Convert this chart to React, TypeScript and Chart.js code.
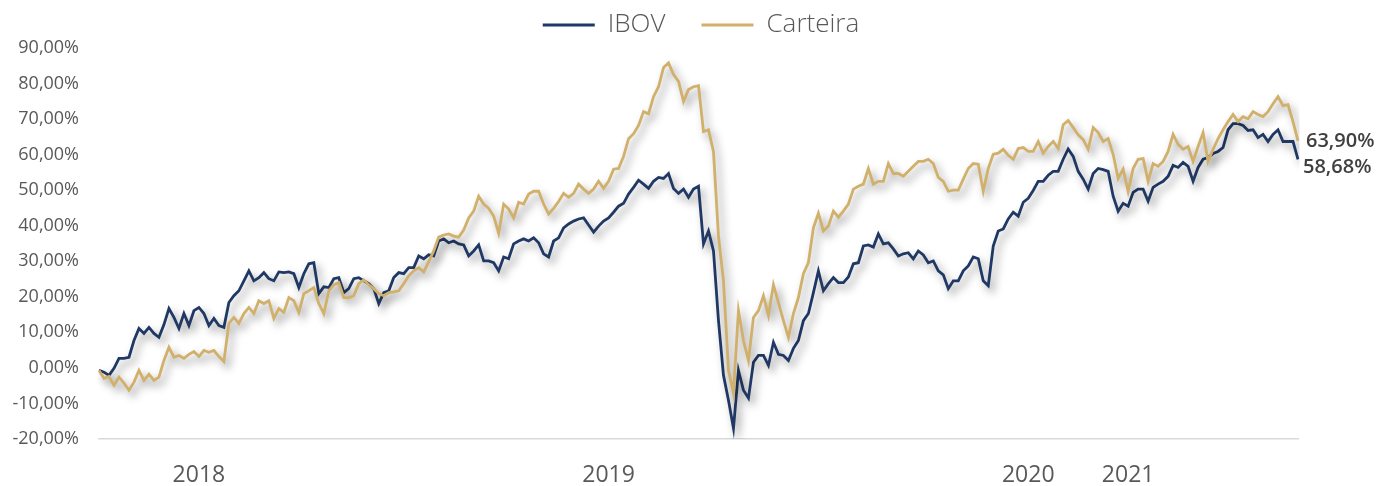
import React, { useEffect, useRef } from 'react';
import { Chart, registerables } from 'chart.js';

Chart.register(...registerables);

const seriesNames = ['IBOV', 'Carteira'];
const yearLabels = ['2018', '2019', '2020', '2021'];
const yearPositions = [20, 102, 186, 206];

const ibov = [
  -0.7, -1.2, -2.1, -0.1, 2.7, 2.7, 3.0, 7.7, 11.1, 9.7,
  11.4, 9.7, 8.6, 12.2, 16.7, 14.2, 11.1, 15.3, 11.9, 16.1,
  17.0, 15.3, 11.9, 13.9, 11.9, 11.4, 18.4, 20.3, 21.7, 24.5,
  27.3, 24.5, 25.4, 26.8, 25.1, 24.5, 27.0, 26.8, 27.0, 26.5,
  22.6, 26.5, 29.3, 29.6, 20.9, 22.8, 22.6, 25.1, 25.4, 21.2,
  22.3, 25.1, 25.4, 24.5, 23.7, 22.3, 18.1, 21.2, 21.7, 25.4,
  26.8, 26.5, 28.2, 28.2, 31.5, 30.7, 31.8, 31.5, 35.7, 36.3,
  35.2, 35.7, 34.9, 34.6, 31.5, 32.9, 34.6, 30.1, 30.1, 29.6,
  27.3, 31.2, 30.7, 34.9, 35.7, 36.3, 35.7, 36.6, 35.2, 32.1,
  31.2, 35.7, 36.6, 39.4, 40.5, 41.3, 41.9, 42.2, 40.2, 38.2,
  39.9, 41.3, 42.2, 43.8, 45.5, 46.3, 48.9, 50.8, 52.8, 51.7,
  50.5, 52.5, 53.6, 53.3, 54.7, 50.5, 49.1, 50.3, 48.0, 50.3,
  51.1, 34.9, 38.5, 32.9, 13.3, -2.1, -9.1, -17.0, -0.7, -6.3,
  -8.5, 1.6, 3.5, 3.5, 0.7, 7.2, 3.8, 3.5, 2.1, 5.5,
  7.7, 13.3, 15.3, 21.2, 27.3, 21.7, 23.7, 25.4, 24.0, 24.0,
  25.6, 29.3, 29.6, 34.3, 34.6, 34.0, 37.7, 34.9, 35.2, 33.5,
  31.5, 32.1, 32.4, 30.7, 32.9, 31.8, 29.6, 30.1, 27.3, 26.2,
  22.3, 24.5, 24.5, 27.3, 28.7, 31.2, 30.7, 24.5, 23.1, 34.3,
  38.5, 39.1, 41.9, 43.8, 42.7, 46.6, 47.7, 49.9, 52.5, 52.5,
  54.2, 55.3, 55.3, 58.7, 61.6, 59.5, 55.3, 53.1, 50.3, 54.7,
  56.1, 55.8, 55.3, 48.3, 44.1, 46.3, 45.5, 49.4, 50.3, 50.3,
  46.9, 50.8, 51.7, 52.5, 53.9, 57.0, 56.4, 57.8, 56.7, 52.5,
  56.4, 58.7, 59.2, 60.3, 60.9, 62.0, 67.0, 68.7, 68.7, 68.2,
  66.8, 67.0, 64.8, 65.7, 63.7, 65.7, 67.0, 63.7, 63.7, 63.7,
  58.68,
];

const carteira = [
  -0.7, -2.9, -2.4, -4.9, -2.6, -4.3, -6.3, -4.0, -0.7, -3.5,
  -1.8, -3.5, -2.6, 2.1, 5.8, 3.0, 3.5, 2.7, 3.8, 4.6,
  3.2, 4.9, 4.4, 4.9, 3.2, 1.8, 12.5, 14.2, 12.5, 15.3,
  17.0, 15.3, 18.9, 18.1, 18.9, 13.9, 16.7, 15.6, 19.8, 18.9,
  15.6, 20.9, 21.7, 22.6, 18.1, 15.3, 21.7, 23.4, 24.0, 19.8,
  19.8, 20.3, 23.7, 24.8, 23.4, 22.3, 20.9, 20.3, 21.2, 21.4,
  21.7, 23.7, 25.9, 27.3, 28.2, 27.0, 29.9, 32.9, 36.8, 37.4,
  37.7, 37.1, 36.8, 38.8, 42.2, 44.1, 48.3, 46.1, 44.9, 42.7,
  37.9, 46.1, 44.7, 42.2, 46.6, 46.1, 48.9, 49.7, 49.7, 46.1,
  43.3, 44.9, 46.8, 49.1, 48.0, 49.1, 51.7, 50.3, 49.1, 50.3,
  52.5, 50.5, 52.5, 55.9, 56.1, 59.5, 64.5, 65.9, 68.2, 72.1,
  71.5, 76.3, 79.1, 84.5, 85.8, 82.5, 80.6, 75.0, 78.3, 79.1,
  79.4, 66.5, 67.0, 60.8, 37.1, 24.5, -0.7, -7.1, 16.1, 7.7,
  2.1, 14.2, 16.1, 20.3, 14.7, 23.4, 18.4, 13.3, 8.6, 15.3,
  19.8, 26.5, 29.6, 39.4, 43.5, 38.5, 39.9, 44.1, 42.4, 44.1,
  46.1, 50.3, 51.1, 51.7, 56.1, 51.7, 52.5, 52.5, 57.5, 54.7,
  54.7, 53.9, 55.3, 56.7, 58.1, 58.1, 58.7, 57.5, 53.6, 52.5,
  49.7, 50.0, 50.0, 53.1, 56.1, 57.5, 57.3, 49.7, 56.1, 60.1,
  60.4, 61.5, 59.8, 58.7, 61.7, 62.0, 60.9, 60.9, 63.7, 60.4,
  62.3, 63.7, 61.7, 68.4, 69.6, 67.6, 65.6, 64.2, 61.5, 67.6,
  66.2, 63.7, 64.5, 60.1, 53.3, 55.9, 49.7, 56.1, 58.7, 58.9,
  52.5, 57.5, 56.7, 58.1, 60.9, 65.7, 62.9, 61.5, 62.3, 58.1,
  62.3, 66.2, 58.1, 61.5, 64.5, 67.0, 69.3, 71.3, 69.3, 70.7,
  70.1, 72.1, 71.3, 70.7, 72.1, 74.3, 76.3, 73.8, 74.1, 69.3,
  63.9,
];

const categories: string[] = ibov.map(() => '');
yearPositions.forEach((p, i) => {
  categories[p] = yearLabels[i];
});

const fmtPct = (v: number) => v.toFixed(2).replace('.', ',') + '%';

const shadowPlugin = {
  id: 'lineShadow',
  beforeDatasetDraw(chart: any) {
    const ctx = chart.ctx;
    ctx.save();
    ctx.shadowColor = 'rgba(0,0,0,0.42)';
    ctx.shadowBlur = 8;
    ctx.shadowOffsetX = 4;
    ctx.shadowOffsetY = 5;
  },
  afterDatasetDraw(chart: any) {
    chart.ctx.restore();
  },
};

const legendShiftPlugin = {
  id: 'legendShift',
  afterLayout(chart: any) {
    if (chart.legend) {
      chart.legend.left += 23;
    }
  },
};

const endLabelPlugin = {
  id: 'endLabels',
  afterDatasetsDraw(chart: any) {
    const ctx = chart.ctx;
    const offsets = [
      { dx: 5, dy: 8 },
      { dx: 8, dy: 1 },
    ];
    chart.data.datasets.forEach((ds: any, i: number) => {
      const meta = chart.getDatasetMeta(i);
      const pt = meta.data[meta.data.length - 1];
      if (!pt) return;
      const v = ds.data[ds.data.length - 1];
      ctx.save();
      ctx.font = '600 20px "Open Sans"';
      ctx.fillStyle = '#404040';
      ctx.textAlign = 'left';
      ctx.textBaseline = 'middle';
      ctx.fillText(fmtPct(v), pt.x + offsets[i].dx, pt.y + offsets[i].dy);
      ctx.restore();
    });
  },
};

export default function App() {
  const ref = useRef<HTMLCanvasElement | null>(null);

  useEffect(() => {
    if (!ref.current) return;
    const chart = new Chart(ref.current, {
      type: 'line',
      data: {
        labels: categories,
        datasets: [
          {
            label: seriesNames[0],
            data: ibov,
            borderColor: '#1f3864',
            backgroundColor: '#1f3864',
            borderWidth: 2.8,
            pointRadius: 0,
            tension: 0,
            order: 1,
          },
          {
            label: seriesNames[1],
            data: carteira,
            borderColor: '#d1b06b',
            backgroundColor: '#d1b06b',
            borderWidth: 2.8,
            pointRadius: 0,
            tension: 0,
            order: 0,
          },
        ],
      },
      options: {
        animation: false,
        responsive: true,
        maintainAspectRatio: false,
        events: [],
        layout: { padding: { left: 0, right: 0, top: -24, bottom: 0 } },
        plugins: {
          tooltip: { enabled: false },
          legend: {
            display: true,
            position: 'top',
            align: 'center',
            labels: {
              sort: (a: any, b: any) => a.datasetIndex - b.datasetIndex,
              usePointStyle: true,
              pointStyle: 'line',
              pointStyleWidth: 52,
              boxHeight: 3,
              padding: 36,
              color: '#595959',
              font: { family: '"Open Sans"', size: 26, weight: '300' },
            },
          },
        },
        scales: {
          x: {
            type: 'category',
            grid: { display: false },
            border: { display: true, color: '#d9d9d9', width: 1.5 },
            ticks: {
              autoSkip: false,
              maxRotation: 0,
              minRotation: 0,
              padding: 15,
              color: '#595959',
              font: { family: '"Open Sans"', size: 23 },
            },
            afterFit: (s: any) => {
              s.height = 47;
            },
          },
          y: {
            min: -20,
            max: 90,
            grid: { display: false },
            border: { display: false },
            ticks: {
              stepSize: 10,
              padding: 12,
              color: '#595959',
              font: { family: '"Open Sans"', size: 18 },
              callback: (v: any) => fmtPct(Number(v)),
            },
            afterFit: (s: any) => {
              s.width = 99;
            },
          },
          yRight: {
            position: 'right',
            min: -20,
            max: 90,
            grid: { display: false },
            border: { display: false },
            ticks: { display: false },
            afterFit: (s: any) => {
              s.width = 81;
            },
          },
        },
      },
      plugins: [shadowPlugin, legendShiftPlugin, endLabelPlugin],
    });
    return () => chart.destroy();
  }, []);

  return (
    <div style={{ position: 'fixed', left: 0, top: 0, width: 1379, height: 486, background: '#fff' }}>
      <canvas ref={ref} />
    </div>
  );
}
